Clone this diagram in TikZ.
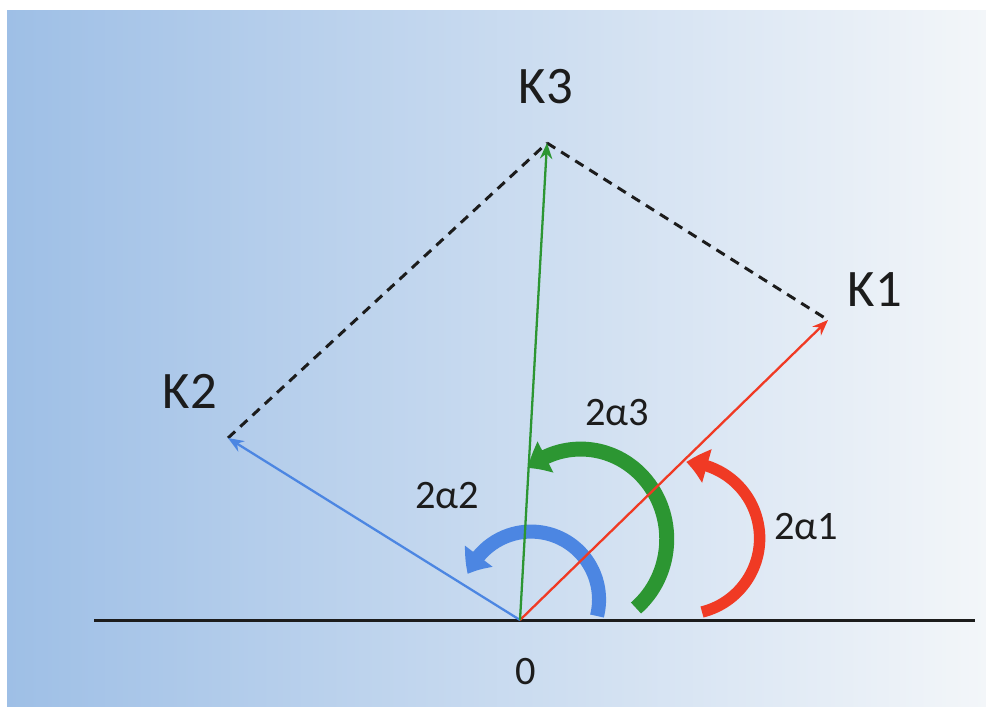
\documentclass[tikz,border=0pt]{standalone}
\usepackage{fontspec}
\setmainfont{Carlito}
\usetikzlibrary{arrows.meta,bending}
\definecolor{vecred}{HTML}{F03A24}
\definecolor{vecgreen}{HTML}{2C9632}
\definecolor{vecblue}{HTML}{4C86E2}
\definecolor{bgleft}{HTML}{9EBFE6}
\definecolor{bgright}{HTML}{F3F6F9}
\definecolor{ink}{HTML}{1C1C1C}

\begin{document}
\begin{tikzpicture}[
    x=0.02cm, y=0.02cm,
    vector/.style={-{Stealth[length=9pt, width=7pt]}, line width=1.3pt},
    guide/.style={dash pattern=on 5.5pt off 4pt, line width=1.7pt, color=ink},
    turn/.style={-{Triangle[length=12pt, width=19pt, bend]}, line width=#1},
    turn/.default=8pt,
    klabel/.style={font=\fontsize{30}{30}\selectfont, color=ink},
    alabel/.style={font=\fontsize{23}{23}\selectfont, color=ink},
]

\useasboundingbox (0,0) rectangle (986,-706);
\fill[white] (0,0) rectangle (986,-706);
\shade[left color=bgleft, right color=bgright] (7,-11) rectangle (986,-706);

\coordinate (O) at (520,-620);
\coordinate (K1) at (828,-320);
\coordinate (K2) at (228,-438);
\coordinate (K3) at (547,-143);
\coordinate (axl) at (94,-620);
\coordinate (axr) at (975,-620);

\node[klabel] (k1lab) at (875,-290) {K1};
\node[klabel] (k2lab) at (190,-391) {K2};
\node[klabel] (k3lab) at (546,-87) {K3};
\node[alabel] (olab) at (526,-672) {0};
\node[alabel] (a1lab) at (806,-527) {2α1};
\node[alabel] (a2lab) at (447,-496) {2α2};
\node[alabel] (a3lab) at (617,-413) {2α3};

\draw[line width=1.7pt, color=ink] (axl) -- (axr);

\foreach \i/\j in {K2/K3, K3/K1} {
    \draw[guide] (\i) -- (\j);
}

% angle arrows
\coordinate (t1) at (702,-612);
\coordinate (t2) at (597,-616);
\coordinate (t3) at (636,-608);
\draw[turn=6.5pt, color=vecred] (t1) arc[start angle=-76, end angle=88, radius=76];
\draw[turn=8pt, color=vecblue] (t2) arc[start angle=-14, end angle=158, radius=68];
\draw[turn=8.5pt, color=vecgreen] (t3) arc[start angle=-50, end angle=128, x radius=86, y radius=90];

\draw[vector, color=vecred] (O) -- (K1);
\draw[vector, color=vecblue] (O) -- (K2);
\draw[vector, color=vecgreen] (O) -- (K3);

\end{tikzpicture}
\end{document}
